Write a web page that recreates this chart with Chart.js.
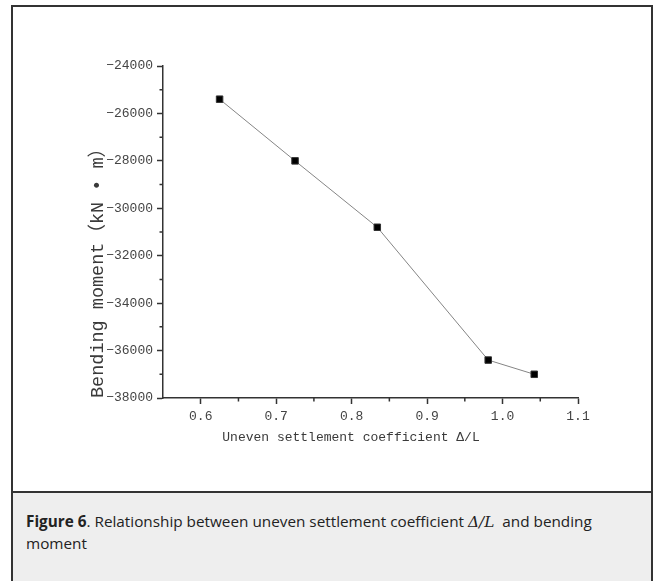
<!DOCTYPE html>
<html>
<head>
<meta charset="utf-8">
<script src="https://cdn.jsdelivr.net/npm/chart.js@4/dist/chart.umd.min.js"></script>
<style>
  html, body { margin:0; padding:0; background:#fff; }
  body { width:656px; height:581px; position:relative; overflow:hidden; }
  #box { position:absolute; left:11px; top:5px; width:638px; height:486px; border:2px solid #333; border-bottom:none; background:#fff; }
  #cap { position:absolute; left:11px; top:491px; width:638px; height:92px; border:2px solid #333; border-bottom:none; background:#eeeeee; }
  #capText { position:absolute; left:13px; top:18px; width:600px; font-family:'Open Sans', sans-serif; font-size:15.3px; line-height:21px; color:#222; }
  #c { position:absolute; left:0; top:0; }
</style>
</head>
<body>
<div id="box"></div>
<div id="cap"><div id="capText"><b>Figure 6</b>. Relationship between uneven settlement coefficient <i style="font-family:'DejaVu Serif',serif;">Δ/L</i>&nbsp; and bending moment</div></div>
<canvas id="c" width="656" height="493"></canvas>
<script>
// ---- data ----
const settlementCoeff = [0.625, 0.725, 0.834, 0.981, 1.042];
const bendingMoment = [-25400, -28000, -30800, -36400, -37000];
const xTickValues = [0.6, 0.7, 0.8, 0.9, 1.0, 1.1];
const xMinorTicks = [0.65, 0.75, 0.85, 0.95, 1.05];
const yTickValues = [-38000, -36000, -34000, -32000, -30000, -28000, -26000, -24000];
const yMinorTicks = [-37000, -35000, -33000, -31000, -29000, -27000, -25000];
const xTitle = 'Uneven settlement coefficient Δ/L     ';
const yTitle = 'Bending moment（kN • m）';

const axisFont = "'Liberation Mono', 'Noto Sans CJK SC', monospace";

const minorTickPlugin = {
  id: 'minorTicks',
  afterDraw(chart) {
    const ctx = chart.ctx;
    const xs = chart.scales.x, ys = chart.scales.y;
    ctx.save();
    ctx.strokeStyle = '#333';
    ctx.lineWidth = 1.5;
    ctx.beginPath();
    xMinorTicks.forEach(v => {
      const px = xs.getPixelForValue(v);
      ctx.moveTo(px, ys.bottom); ctx.lineTo(px, ys.bottom + 3.5);
    });
    yMinorTicks.forEach(v => {
      const py = ys.getPixelForValue(v);
      ctx.moveTo(xs.left, py); ctx.lineTo(xs.left - 3.5, py);
    });
    ctx.stroke();
    ctx.restore();
  }
};

new Chart(document.getElementById('c'), {
  type: 'line',
  data: {
    datasets: [{
      data: settlementCoeff.map((x, i) => ({ x: x, y: bendingMoment[i] })),
      borderColor: '#858585',
      borderWidth: 1,
      pointStyle: 'rect',
      pointRadius: 4.6,
      pointBackgroundColor: '#000',
      pointBorderColor: '#333',
      pointBorderWidth: 1,
      tension: 0
    }]
  },
  options: {
    responsive: false,
    animation: false,
    layout: { padding: { left: 87, top: 66, right: 78, bottom: 48 } },
    plugins: { legend: { display: false }, tooltip: { enabled: false } },
    scales: {
      x: {
        type: 'linear',
        min: 0.55, max: 1.1,
        afterBuildTicks: s => { s.ticks = xTickValues.map(v => ({ value: v })); },
        afterFit: s => { s.height = 47; },
        grid: { drawOnChartArea: false, drawTicks: true, tickLength: 6, tickColor: '#333', tickWidth: 1.5 },
        border: { display: true, color: '#333', width: 1.5 },
        ticks: { padding: 5, color: '#444', font: { family: axisFont, size: 13 }, callback: v => Number(v).toFixed(1) },
        title: { display: true, text: xTitle, color: '#3a3a3a', padding: 0, font: { family: axisFont, size: 13 } }
      },
      y: {
        type: 'linear',
        min: -38000, max: -24000,
        afterBuildTicks: s => { s.ticks = yTickValues.map(v => ({ value: v })); },
        afterFit: s => { s.width = 76; },
        grid: { drawOnChartArea: false, drawTicks: true, tickLength: 6, tickColor: '#333', tickWidth: 1.5 },
        border: { display: true, color: '#333', width: 1.5 },
        ticks: { padding: 4, color: '#444', font: { family: axisFont, size: 13 }, callback: v => String(v).replace('-', '−') },
        title: { display: true, text: yTitle, align: 'start', color: '#3a3a3a', padding: 0, font: { family: axisFont, size: 18.5 } }
      }
    }
  },
  plugins: [minorTickPlugin]
});
</script>
</body>
</html>
